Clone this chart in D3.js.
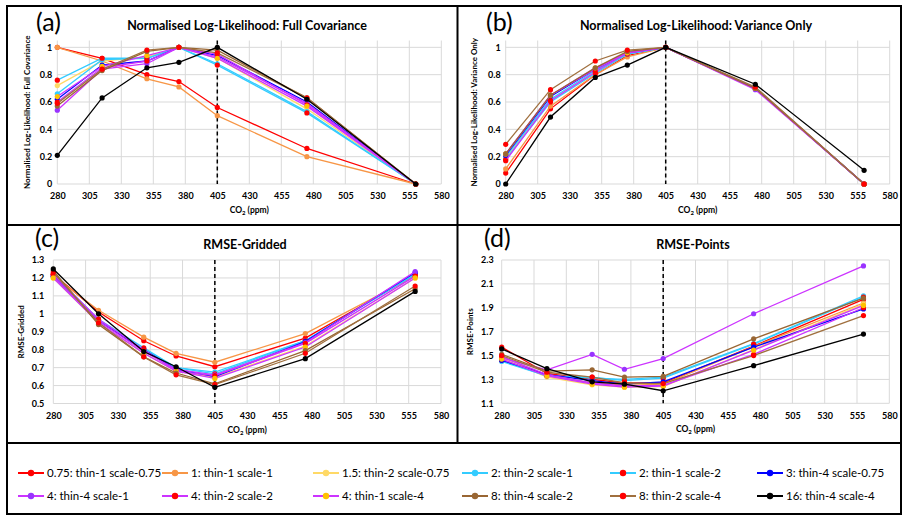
<!DOCTYPE html>
<html><head><meta charset="utf-8">
<script src="https://cdn.jsdelivr.net/npm/d3@7"></script>
<style>
body{margin:0;background:#fff;}
svg text{font-family:Lato,"Open Sans",sans-serif;}
</style></head>
<body><svg id="c" width="904" height="516"></svg>
<script>
const co2 = [280, 315, 350, 375, 405, 475, 560];
const xTicks = [280,305,330,355,380,405,430,455,480,505,530,555,580];
const seriesNames = ["0.75: thin-1 scale-0.75","1: thin-1 scale-1","1.5: thin-2 scale-0.75","2: thin-2 scale-1","2: thin-1 scale-2","3: thin-4 scale-0.75","4: thin-4 scale-1","4: thin-2 scale-2","4: thin-1 scale-4","8: thin-4 scale-2","8: thin-2 scale-4","16: thin-4 scale-4"];
const lineColors = ["#FF0000","#F79646","#FFD966","#33CCFF","#33CCFF","#0000FF","#CC33FF","#CC33FF","#CC33FF","#996633","#A0703F","#000000"];
const markerColors = ["#FF0000","#F79646","#FFD966","#33CCFF","#FF0000","#0000FF","#9933FF","#FF0000","#FFC000","#996633","#FF0000","#000000"];

const fullCovariance = [
 [1.00,0.92,0.80,0.75,0.56,0.26,0],
 [1.00,0.90,0.77,0.71,0.50,0.20,0],
 [0.72,0.90,0.93,1.00,0.92,0.55,0],
 [0.66,0.91,0.92,1.00,0.88,0.53,0],
 [0.76,0.92,0.92,1.00,0.87,0.52,0],
 [0.62,0.87,0.90,1.00,0.94,0.60,0],
 [0.54,0.84,0.88,1.00,0.93,0.59,0],
 [0.60,0.85,0.90,1.00,0.95,0.58,0],
 [0.64,0.86,0.94,1.00,0.92,0.57,0],
 [0.57,0.83,0.97,1.00,0.98,0.63,0],
 [0.59,0.84,0.98,1.00,0.96,0.63,0],
 [0.21,0.63,0.85,0.89,1.00,0.62,0]
];
const varianceOnly = [
 [0.08,0.55,0.80,0.94,1,0.70,0],
 [0.11,0.57,0.80,0.93,1,0.70,0],
 [0.19,0.61,0.82,0.95,1,0.70,0],
 [0.20,0.62,0.83,0.95,1,0.70,0],
 [0.18,0.60,0.81,0.95,1,0.70,0],
 [0.21,0.64,0.84,0.96,1,0.70,0],
 [0.22,0.65,0.84,0.96,1,0.69,0],
 [0.17,0.61,0.82,0.96,1,0.70,0],
 [0.22,0.65,0.85,0.96,1,0.70,0],
 [0.22,0.65,0.85,0.97,1,0.70,0],
 [0.29,0.69,0.90,0.98,1,0.71,0],
 [0.00,0.49,0.78,0.87,1,0.73,0.10]
];
const rmseGridded = [
 [1.22,1.01,0.85,0.765,0.705,0.865,1.215],
 [1.21,1.02,0.87,0.78,0.73,0.89,1.21],
 [1.20,0.95,0.78,0.68,0.645,0.82,1.20],
 [1.21,0.96,0.80,0.70,0.675,0.85,1.225],
 [1.22,0.97,0.81,0.70,0.665,0.85,1.22],
 [1.21,0.96,0.80,0.69,0.65,0.845,1.23],
 [1.21,0.96,0.79,0.69,0.66,0.84,1.235],
 [1.22,0.97,0.80,0.68,0.655,0.835,1.21],
 [1.20,0.95,0.78,0.68,0.64,0.815,1.20],
 [1.24,0.94,0.76,0.67,0.61,0.795,1.14],
 [1.23,0.95,0.76,0.66,0.605,0.78,1.155],
 [1.25,1.00,0.79,0.705,0.59,0.75,1.125]
];
const rmsePoints = [
 [1.57,1.35,1.30,1.27,1.27,1.58,1.97],
 [1.49,1.33,1.27,1.25,1.26,1.575,1.94],
 [1.48,1.32,1.255,1.235,1.24,1.55,1.93],
 [1.45,1.33,1.31,1.30,1.32,1.60,2.00],
 [1.46,1.33,1.32,1.29,1.31,1.595,1.99],
 [1.46,1.34,1.29,1.26,1.28,1.57,1.89],
 [1.48,1.38,1.51,1.385,1.475,1.85,2.25],
 [1.49,1.34,1.27,1.245,1.25,1.51,1.90],
 [1.47,1.33,1.26,1.235,1.245,1.545,1.92],
 [1.51,1.37,1.38,1.32,1.325,1.64,1.98],
 [1.50,1.36,1.32,1.27,1.265,1.50,1.835],
 [1.555,1.39,1.28,1.26,1.205,1.415,1.68]
];
const yTicksLL = [0,0.2,0.4,0.6,0.8,1];
const yTicksGridded = [0.5,0.6,0.7,0.8,0.9,1,1.1,1.2,1.3];
const yTicksPoints = [1.1,1.3,1.5,1.7,1.9,2.1,2.3];

const svg = d3.select("#c");
const FONT = 'Lato,"Open Sans",sans-serif';

// frame
const frame = svg.append("g").attr("stroke","#000").attr("stroke-width",2).attr("fill","none");
frame.append("rect").attr("x",7).attr("y",6).attr("width",894).attr("height",508);
frame.append("line").attr("x1",457.5).attr("x2",457.5).attr("y1",6).attr("y2",443);
frame.append("line").attr("x1",7).attr("x2",901).attr("y1",225).attr("y2",225);
frame.append("line").attr("x1",7).attr("x2",901).attr("y1",443).attr("y2",443);

const panels = [
 {data:fullCovariance, ticks:yTicksLL, dom:[0,1.05], xr:[57.3,441.3], yr:[184,40.5], letter:"(a)", lx:36, ly:31, pad:5,
  title:"Normalised Log-Likelihood: Full Covariance", tx:247, ty:30, ytitle:"Normalised Log-Likelihood: Full Covariance", ytx:30},
 {data:varianceOnly, ticks:yTicksLL, dom:[0,1.05], xr:[505.7,889.7], yr:[184,40.5], letter:"(b)", lx:486, ly:31, pad:5,
  title:"Normalised Log-Likelihood: Variance Only", tx:696, ty:30, ytitle:"Normalised Log-Likelihood: Variance Only", ytx:477},
 {data:rmseGridded, ticks:yTicksGridded, dom:[0.5,1.3], xr:[53.3,441], yr:[403.5,260], letter:"(c)", lx:35, ly:247, pad:9,
  title:"RMSE-Gridded", tx:245, ty:249, ytitle:"RMSE-Gridded", ytx:24},
 {data:rmsePoints, ticks:yTicksPoints, dom:[1.1,2.3], xr:[501.7,889.3], yr:[403.3,260], letter:"(d)", lx:484, ly:247, pad:8,
  title:"RMSE-Points", tx:693, ty:249, ytitle:"RMSE-Points", ytx:473}
];

panels.forEach(p => {
  const x = d3.scaleLinear().domain([280,580]).range(p.xr);
  const y = d3.scaleLinear().domain(p.dom).range(p.yr);
  const g = svg.append("g");
  const yTop = p.yr[1], yBot = p.yr[0];
  // gridlines
  g.selectAll(".vg").data(xTicks).join("line")
    .attr("x1",d=>x(d)).attr("x2",d=>x(d)).attr("y1",yTop).attr("y2",yBot)
    .attr("stroke","#d9d9d9").attr("stroke-width",1);
  g.selectAll(".hg").data(p.ticks).join("line")
    .attr("x1",p.xr[0]).attr("x2",p.xr[1]).attr("y1",d=>y(d)).attr("y2",d=>y(d))
    .attr("stroke","#d9d9d9").attr("stroke-width",1);
  // axes
  const xa = g.append("g").attr("transform",`translate(0,${yBot})`)
    .call(d3.axisBottom(x).tickValues(xTicks).tickSize(0).tickPadding(9).tickFormat(d3.format("d")));
  xa.select(".domain").remove();
  xa.selectAll("text").attr("font-size",9).attr("font-weight","bold").attr("font-family",FONT).attr("fill","#000");
  const ya = g.append("g").attr("transform",`translate(${p.xr[0]},0)`)
    .call(d3.axisLeft(y).tickValues(p.ticks).tickSize(0).tickPadding(p.pad).tickFormat(d3.format("")));
  ya.select(".domain").remove();
  ya.selectAll("text").attr("font-size",9).attr("font-weight","bold").attr("font-family",FONT).attr("fill","#000");
  // dashed line at 405
  g.append("line").attr("x1",x(405)).attr("x2",x(405)).attr("y1",yTop).attr("y2",yBot)
    .attr("stroke","#000").attr("stroke-width",1.5).attr("stroke-dasharray","4,3");
  // series
  const line = d3.line().x((d,i)=>x(co2[i])).y(d=>y(d));
  p.data.forEach((vals,si) => {
    g.append("path").datum(vals).attr("d",line).attr("fill","none")
      .attr("stroke",lineColors[si]).attr("stroke-width",1.3);
    g.selectAll(null).data(vals).join("circle")
      .attr("cx",(d,i)=>x(co2[i])).attr("cy",d=>y(d)).attr("r",2.6)
      .attr("fill",markerColors[si]);
  });
  // titles
  g.append("text").attr("x",p.tx).attr("y",p.ty).attr("text-anchor","middle")
    .attr("font-size",12.5).attr("font-weight","bold").text(p.title);
  g.append("text").attr("x",p.lx).attr("y",p.ly).attr("font-size",25).text(p.letter);
  const yc = (yTop+yBot)/2;
  g.append("text").attr("transform",`translate(${p.ytx},${yc}) rotate(-90)`).attr("text-anchor","middle")
    .attr("font-size",8).attr("font-weight","bold").text(p.ytitle);
  const xt = g.append("text").attr("x",(p.xr[0]+p.xr[1])/2).attr("y",yBot+29).attr("text-anchor","middle")
    .attr("font-size",8.5).attr("font-weight","bold");
  xt.append("tspan").text("CO");
  xt.append("tspan").attr("font-size",6).attr("dy",2).text("2");
  xt.append("tspan").attr("dy",-2).text(" (ppm)");
});

// legend
const legCols = [18,162,313,462,610,757];
const legRows = [473,496];
const lg = svg.append("g");
seriesNames.forEach((name,i) => {
  const cx = legCols[i%6], cy = legRows[Math.floor(i/6)];
  lg.append("line").attr("x1",cx).attr("x2",cx+26).attr("y1",cy).attr("y2",cy)
    .attr("stroke",lineColors[i]).attr("stroke-width",2);
  lg.append("circle").attr("cx",cx+13).attr("cy",cy).attr("r",3.2).attr("fill",markerColors[i]);
  lg.append("text").attr("x",cx+29).attr("y",cy+4).attr("font-size",11.5).text(name);
});
</script></body></html>
